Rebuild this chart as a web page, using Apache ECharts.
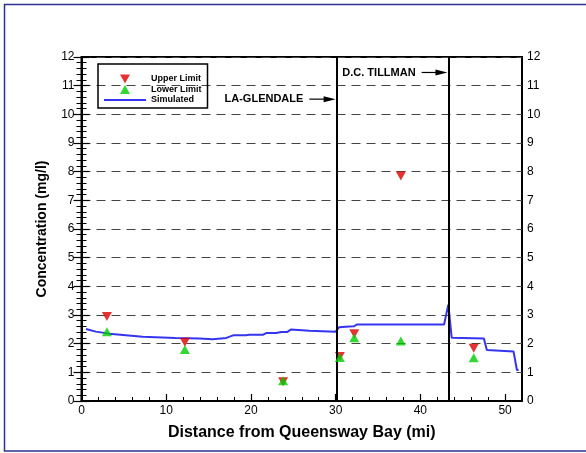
<!DOCTYPE html>
<html>
<head>
<meta charset="utf-8">
<script src="https://cdn.jsdelivr.net/npm/echarts@6/dist/echarts.min.js"></script>
<style>
  html, body { margin: 0; padding: 0; background: #fff; }
  #chart { width: 586px; height: 453px; }
</style>
</head>
<body>
<div id="chart"></div>
<script>
// Observed limits at sampling stations (distance in miles, concentration in mg/l)
const stationDistance = [3.0, 12.2, 23.8, 30.5, 32.2, 37.7, 46.3];
const upperLimit      = [2.95, 2.05, 0.67, 1.55, 2.35, 7.85, 1.84];
const lowerLimit      = [2.42, 1.80, 0.71, 1.52, 2.21, 2.09, 1.51];

// Simulated concentration profile along the river
const simDistance = [0.53, 1.7, 3.27, 7.2, 11.1, 13.9, 15.5, 17.1, 17.9, 19.4, 19.8, 21.4, 21.8, 23.0, 23.55, 24.3, 24.7, 26.9, 30.0, 30.4, 31.6, 32.2, 32.5, 42.8, 43.3, 43.7, 47.5, 47.85, 51.0, 51.4, 51.6];
const simConc     = [2.51, 2.42, 2.35, 2.24, 2.20, 2.18, 2.15, 2.20, 2.29, 2.29, 2.31, 2.31, 2.37, 2.37, 2.41, 2.41, 2.49, 2.45, 2.42, 2.57, 2.60, 2.61, 2.67, 2.67, 3.36, 2.21, 2.18, 1.78, 1.73, 1.08, 1.08];

// Treatment plant outfalls
const plantNames = ['LA-GLENDALE', 'D.C. TILLMAN'];
const plantMiles = [30.1, 43.3];

const xTickLabels = [0, 10, 20, 30, 40, 50];

const FONT = '"Liberation Sans", Arial, sans-serif';
const downTri = 'path://M0,0L10,0L5,9Z';
const upTri = 'path://M5,0L10,9L0,9Z';
const lineIcon = 'path://M0,0L42,0L42,2L0,2Z';

const chart = echarts.init(document.getElementById('chart'), null, { renderer: 'canvas' });

const pair = (xs, ys) => xs.map((x, i) => [x, ys[i]]);

const yAxisBase = {
  type: 'value', min: 0, max: 12, interval: 1,
  axisLine: { show: true, lineStyle: { color: '#000', width: 2 } },
  axisTick: { show: true, inside: true, length: 8, lineStyle: { color: '#000', width: 1.2 } },
  minorTick: { show: true, splitNumber: 5, length: 5, lineStyle: { color: '#000', width: 1 } },
  axisLabel: { color: '#000', fontSize: 12, fontFamily: FONT },
  minorSplitLine: { show: false }
};

chart.setOption({
  animation: false,
  backgroundColor: '#fff',
  textStyle: { fontFamily: FONT },
  graphic: [{
    id: 'frame', type: 'rect', silent: true, z: -10,
    shape: { x: 4.5, y: 4.5, width: 700, height: 446.5 },
    style: { fill: 'none', stroke: '#2e3192', lineWidth: 1.5 }
  }],
  grid: {
    left: 81.5, right: 64, top: 57, bottom: 52,
    show: true, borderColor: '#000', borderWidth: 2, backgroundColor: 'transparent'
  },
  legend: {
    orient: 'vertical', left: 98, top: 64,
    padding: [10, 6, 3, 6], itemGap: 0.5, itemWidth: 42, itemHeight: 9,
    borderColor: '#000', borderWidth: 1.5, borderRadius: 0,
    textStyle: { fontSize: 9, fontWeight: 'bold', color: '#000', lineHeight: 10, fontFamily: FONT },
    data: [
      { name: 'Upper Limit', icon: downTri },
      { name: 'Lower Limit', icon: upTri },
      { name: 'Simulated', icon: lineIcon }
    ]
  },
  xAxis: [
    {
      type: 'value', min: 0, max: 52, interval: 10, position: 'bottom',
      axisLine: { show: true, lineStyle: { color: '#000', width: 2 } },
      axisTick: { show: true, inside: true, length: 7, lineStyle: { color: '#000', width: 1.2 } },
      axisLabel: {
        color: '#000', fontSize: 12, fontFamily: FONT, margin: 4, showMaxLabel: false,
        formatter: v => (xTickLabels.indexOf(v) >= 0 ? String(v) : '')
      },
      splitLine: { show: false },
      name: 'Distance from Queensway Bay (mi)', nameLocation: 'middle', nameGap: 24,
      nameTextStyle: { fontSize: 16, fontWeight: 'bold', color: '#000', fontFamily: FONT }
    },
    {
      type: 'value', min: 0, max: 52, interval: 2, position: 'bottom',
      axisLine: { show: false },
      axisTick: { show: true, inside: true, length: 4, lineStyle: { color: '#000', width: 1 } },
      axisLabel: { show: false },
      splitLine: { show: false }
    }
  ],
  yAxis: [
    Object.assign({}, yAxisBase, {
      position: 'left',
      axisLabel: Object.assign({}, yAxisBase.axisLabel, { margin: 7 }),
      splitLine: { show: true, lineStyle: { color: '#444', width: 1, type: [9, 6] } },
      name: 'Concentration (mg/l)', nameLocation: 'middle', nameGap: 32,
      nameTextStyle: { fontSize: 14, fontWeight: 'bold', color: '#000', fontFamily: FONT }
    }),
    Object.assign({}, yAxisBase, {
      position: 'right',
      axisLabel: Object.assign({}, yAxisBase.axisLabel, { margin: 5 }),
      splitLine: { show: false }
    })
  ],
  series: [
    {
      name: 'Simulated', type: 'line', xAxisIndex: 0, yAxisIndex: 0,
      data: pair(simDistance, simConc),
      showSymbol: false, symbol: 'none',
      lineStyle: { color: '#3535f0', width: 2 },
      itemStyle: { color: '#3535f0' },
      z: 3,
      markLine: {
        silent: true, symbol: ['none', 'none'],
        label: { show: false },
        lineStyle: { color: '#000', width: 2, type: 'solid' },
        data: plantMiles.map(m => ({ xAxis: m }))
      }
    },
    {
      name: 'Upper Limit', type: 'scatter', xAxisIndex: 0, yAxisIndex: 0,
      data: pair(stationDistance, upperLimit),
      symbol: downTri, symbolSize: [10, 9],
      itemStyle: { color: '#dd0000' }, z: 4
    },
    {
      name: 'Lower Limit', type: 'scatter', xAxisIndex: 0, yAxisIndex: 0,
      data: pair(stationDistance, lowerLimit),
      symbol: upTri, symbolSize: [10, 9],
      itemStyle: { color: '#00cc00' }, z: 5
    }
  ]
});

// Outfall labels with arrows pointing at the plant lines
const plantLabelLevel = [10.53, 11.46];
const arrowLength = [3.2, 3.15];
const labelGraphics = [];
plantNames.forEach((name, i) => {
  const tip = chart.convertToPixel({ xAxisIndex: 0, yAxisIndex: 0 }, [plantMiles[i] - 0.1, plantLabelLevel[i]]);
  const tail = chart.convertToPixel({ xAxisIndex: 0, yAxisIndex: 0 }, [plantMiles[i] - arrowLength[i], plantLabelLevel[i]]);
  labelGraphics.push({
    type: 'line', silent: true, z: 20,
    shape: { x1: tail[0], y1: tail[1], x2: tip[0] - 10, y2: tip[1] },
    style: { stroke: '#000', lineWidth: 1.2 }
  });
  labelGraphics.push({
    type: 'polygon', silent: true, z: 20,
    shape: { points: [[tip[0], tip[1]], [tip[0] - 12, tip[1] - 3], [tip[0] - 12, tip[1] + 3]] },
    style: { fill: '#000' }
  });
  labelGraphics.push({
    type: 'text', silent: true, z: 20,
    x: tail[0] - 6, y: tail[1],
    style: {
      text: name, fill: '#000', font: 'bold 11px ' + FONT,
      align: 'right', verticalAlign: 'middle'
    }
  });
});
chart.setOption({ graphic: labelGraphics.concat([{ id: 'frame' }]) });
</script>
</body>
</html>
